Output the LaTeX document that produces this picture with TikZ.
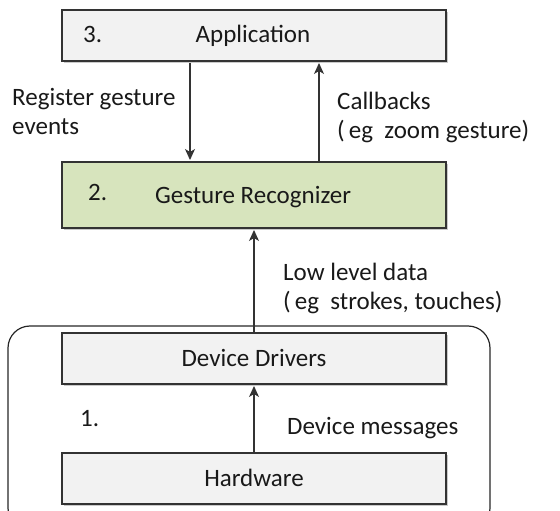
\documentclass[tikz,border=0pt]{standalone}
\usepackage{fontspec}
\setmainfont{Carlito}
\usetikzlibrary{arrows.meta,shadows}
\definecolor{boxgrey}{HTML}{F2F2F2}
\definecolor{boxgreen}{HTML}{D7E4BD}
\definecolor{edge}{HTML}{333333}
\begin{document}
\begin{tikzpicture}[x=1pt,y=-1pt,
  layer/.style={draw=edge,line width=1.3pt,fill=boxgrey,drop shadow={shadow xshift=1.5pt,shadow yshift=-2pt,fill=black!35,opacity=0.6}},
  lbl/.style={anchor=base west,inner sep=0pt,font=\fontsize{25}{28}\selectfont,text=black!90},
  clbl/.style={anchor=base,inner sep=0pt,font=\fontsize{25}{28}\selectfont,text=black!90},
  flow/.style={draw=black!80,line width=1.2pt,-{Stealth[length=11pt,width=10pt,inset=3pt]}}]
\useasboundingbox (0,0) rectangle (560,511);
\begin{scope}
\clip (0,0) rectangle (560,511);
\draw[line width=1.2pt,draw=black!85,rounded corners=22pt] (8,326) rectangle (490,530);
\end{scope}
% boxes
\path[layer] (62,10) rectangle (446,61);
\path[layer,fill=boxgreen] (62,162) rectangle (446,228);
\path[layer] (62,333) rectangle (446,384);
\path[layer] (62,453) rectangle (446,504);
\coordinate (appB) at (190,63);
\coordinate (grT) at (190,160);
\coordinate (grT2) at (319,162);
\coordinate (appB2) at (319,63);
\coordinate (ddT) at (254,333);
\coordinate (grB) at (254,230);
\coordinate (hwT) at (254,453);
\coordinate (ddB) at (254,386);
\draw[flow] (appB) -- (grT);
\draw[flow] (grT2) -- (appB2);
\draw[flow] (ddT) -- (grB);
\draw[flow] (hwT) -- (ddB);
% texts
\node[lbl] (n3) at (83,43) {3.};
\node[clbl] (app) at (253,43) {Application};
\node[lbl] (n2) at (88,200) {2.};
\node[clbl] (gr) at (253,203) {Gesture Recognizer};
\node[clbl] (dd) at (254,366) {Device Drivers};
\node[clbl] (hw) at (254,486) {Hardware};
\node[lbl] (n1) at (80,426) {1.};
\node[lbl] (reg1) at (12,106) {Register gesture};
\node[lbl] (reg2) at (12,134) {events};
\node[lbl] (cb1) at (337,110) {Callbacks};
\node[lbl] (cb2) at (337,138) {(\,eg\ \ zoom gesture)};
\node[lbl] (ll1) at (283,280) {Low level data};
\node[lbl] (ll2) at (283,309) {(\,eg\ \ strokes, touches)};
\node[lbl] (dm) at (287,434) {Device messages};
\end{tikzpicture}
\end{document}
